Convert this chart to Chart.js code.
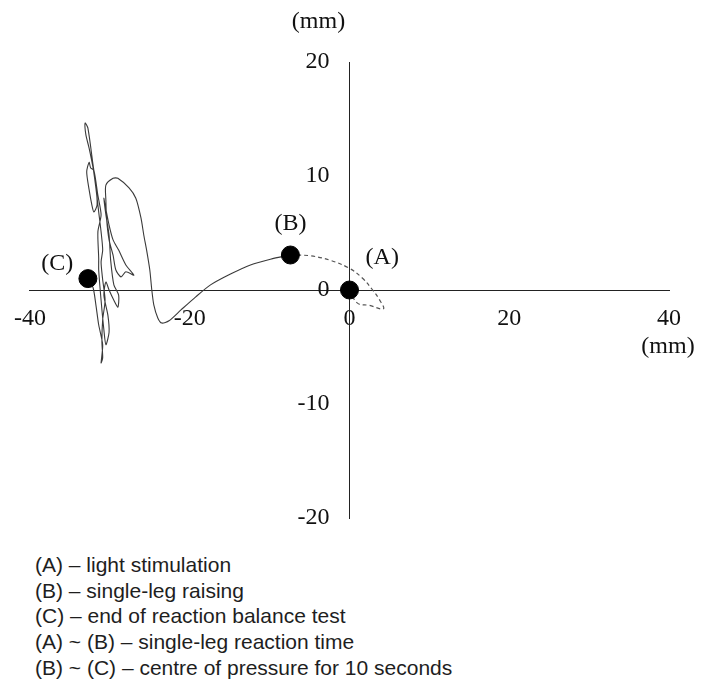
<!DOCTYPE html>
<html>
<head>
<meta charset="utf-8">
<script src="https://cdn.jsdelivr.net/npm/chart.js@4/dist/chart.umd.min.js"></script>
<style>
    body { margin: 0; background: #fff; }
    #chart { display: block; }
    #notes {
        margin: 12px 0 0 35px;
        font-family: "Liberation Sans", Arial, sans-serif;
        font-size: 21px;
        line-height: 25.7px;
        color: #1e1e1e;
    }
</style>
</head>
<body>
<canvas id="chart" width="707" height="540"></canvas>
<div id="notes"></div>
<script>
// Centre of pressure trace, (B) -> (C), in mm
const solidX = [-7.4, -9.9, -12.4, -14.9, -17.4, -19.25, -21.1, -22.6, -23.5, -24.0, -24.5, -24.75, -25.0, -25.4, -25.75,
    -26.1, -26.75, -27.6, -29.0, -29.6, -30.5, -30.5, -30.4, -30.1, -29.6, -29.25, -28.6, -28.0, -27.0, -28.0,
    -28.9, -29.6, -30.1, -30.6, -30.75, -30.5, -30.1, -29.9, -29.5, -28.9, -29.0, -29.5, -30.1, -30.5, -30.75,
    -30.25, -30.1, -30.5, -30.75, -31.1, -31.4, -31.4, -31.5, -31.1, -31.5, -32.0, -32.4, -32.6, -32.9, -32.6,
    -32.25, -32.0, -31.6, -31.75, -32.1, -32.75, -33.1, -33.0, -32.6, -32.1, -31.75, -31.4, -31.1, -30.9, -31.1,
    -30.9, -30.6, -30.9, -31.0, -30.9, -31.1, -30.9, -31.4, -31.75, -32.1, -32.75];
const solidY = [3.07, 2.7, 2.2, 1.4, 0.45, -0.6, -1.75, -2.7, -2.9, -2.45, -1.3, 0, 1.75, 3.5, 4.8,
    6.3, 8.05, 8.95, 9.8, 9.8, 9.2, 7.9, 6.15, 4.4, 3.05, 1.75, 1.15, 1.6, 1.3, 2.2,
    3.5, 4.4, 5.7, 7.45, 8.05, 6.6, 4.8, 2.6, 0.45, -0.45, -1.5, -0.9, 0, 0.7, -0.45,
    -2.2, -3.7, -4.8, -3.5, -0.9, 1.75, 2.8, 5.1, 6.6, 8.3, 10.5, 10.7, 11.2, 10.35, 8.8,
    7.45, 6.85, 7.45, 9.2, 10.95, 14.2, 14.65, 13.6, 12.45, 10.7, 8.95, 6.85, 5.1, 3.5, 2.45,
    0.9, -0.9, -2.6, -4.55, -5.95, -6.4, -4.8, -3.05, -1.3, 0.2, 1.05];

// Reaction time path, (A) -> (B), in mm
const dashedX = [0, 1.0, 2.5, 4.25, 3.7, 2.9, 1.6, 0, -2.4, -4.9, -7.4];
const dashedY = [0, -1.15, -1.35, -1.65, -0.8, 0, 1.05, 1.9, 2.6, 3.0, 3.07];

// Event markers and their labels
const markerNames = ['(A)', '(B)', '(C)'];
const markerX = [0, -7.4, -32.75];
const markerY = [0, 3.07, 1.0];
const labelX = [4.1, -7.4, -36.6];
const labelY = [2.8, 5.8, 2.35];

// Axes
const xTicks = [-40, -20, 0, 20, 40];
const yTicks = [-20, -10, 0, 10, 20];
const unitLabel = '(mm)';

const notes = [
    '(A) – light stimulation',
    '(B) – single-leg raising',
    '(C) – end of reaction balance test',
    '(A) ~ (B) – single-leg reaction time',
    '(B) ~ (C) – centre of pressure for 10 seconds'
];

const serif = '"Liberation Serif", "Times New Roman", serif';

function toPoints(xs, ys) {
    return xs.map((x, i) => ({ x: x, y: ys[i] }));
}

// Draws the y tick labels, the (A)/(B)/(C) labels and the two (mm) unit labels
const textPlugin = {
    id: 'textPlugin',
    afterDraw(chart) {
        const ctx = chart.ctx;
        const xs = chart.scales.x;
        const ys = chart.scales.y;
        const axisX = xs.getPixelForValue(0);
        ctx.save();
        ctx.font = '24px ' + serif;
        ctx.fillStyle = '#111';
        ctx.textBaseline = 'middle';

        // y tick labels sit left of the vertical axis
        ctx.textAlign = 'right';
        ys.ticks.forEach(t => {
            ctx.fillText(String(t.value), axisX - 20, ys.getPixelForValue(t.value));
        });

        ctx.textAlign = 'center';
        markerNames.forEach((name, i) => {
            ctx.fillText(name, xs.getPixelForValue(labelX[i]), ys.getPixelForValue(labelY[i]));
        });
        // unit labels: one above the y axis, one under the right end of the x axis
        ctx.fillText(unitLabel, axisX - 31, ys.getPixelForValue(yTicks[yTicks.length - 1]) - 40);
        ctx.fillText(unitLabel, xs.getPixelForValue(xTicks[xTicks.length - 1]) - 1, ys.getPixelForValue(0) + 57);
        ctx.restore();
    }
};

const ctx = document.getElementById('chart').getContext('2d');
new Chart(ctx, {
    type: 'scatter',
    data: {
        datasets: [
            {
                label: 'events',
                data: toPoints(markerX, markerY),
                pointRadius: 9,
                pointBackgroundColor: '#000',
                pointBorderColor: '#000',
                showLine: false
            },
            {
                label: 'reaction',
                data: toPoints(dashedX, dashedY),
                showLine: true,
                borderColor: '#555',
                borderWidth: 1.2,
                borderDash: [4, 3],
                tension: 0.4,
                pointRadius: 0
            },
            {
                label: 'cop',
                data: toPoints(solidX, solidY),
                showLine: true,
                borderColor: '#3a3a3a',
                borderWidth: 1.1,
                tension: 0.25,
                pointRadius: 0
            }
        ]
    },
    options: {
        responsive: false,
        animation: false,
        layout: { padding: { left: 29, right: 38, top: 62, bottom: 22 } },
        plugins: {
            legend: { display: false },
            tooltip: { enabled: false }
        },
        scales: {
            x: {
                type: 'linear',
                position: { y: 0 },
                min: xTicks[0],
                max: xTicks[xTicks.length - 1],
                afterFit(scale) { scale.height = 0; },
                afterBuildTicks(scale) { scale.ticks = xTicks.map(v => ({ value: v })); },
                grid: { display: false, drawTicks: false },
                border: { display: true, color: '#222', width: 1 },
                ticks: {
                    autoSkip: false,
                    maxRotation: 0,
                    padding: 14,
                    color: '#111',
                    font: { family: serif, size: 24 }
                }
            },
            y: {
                type: 'linear',
                position: { x: 0 },
                min: yTicks[0],
                max: yTicks[yTicks.length - 1],
                afterFit(scale) { scale.width = 0; },
                afterBuildTicks(scale) { scale.ticks = yTicks.map(v => ({ value: v })); },
                grid: { display: false, drawTicks: false },
                border: { display: true, color: '#222', width: 1 },
                ticks: { display: false }
            }
        }
    },
    plugins: [textPlugin]
});

// Notes under the chart
document.getElementById('notes').innerHTML = notes.map(line => '<div>' + line + '</div>').join('');
</script>
</body>
</html>
